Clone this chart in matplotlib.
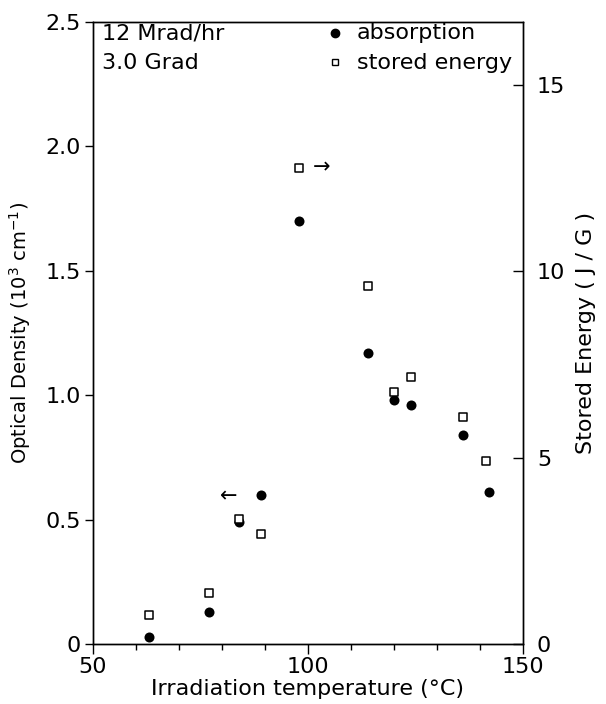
import matplotlib
matplotlib.use("Agg")
import matplotlib.pyplot as plt
from matplotlib.ticker import FixedLocator, MultipleLocator, FuncFormatter

# Data
temp_abs = [63, 77, 84, 89, 98, 114, 120, 124, 136, 142]
optical_density = [0.03, 0.13, 0.49, 0.60, 1.70, 1.17, 0.98, 0.96, 0.84, 0.61]
temp_se = [63, 77, 84, 89, 98, 114, 120, 124, 136, 141.5]
stored_energy = [0.78, 1.36, 3.35, 2.94, 12.78, 9.61, 6.75, 7.17, 6.09, 4.9]

x_ticks = [50, 100, 150]
od_ticks = [0, 0.5, 1.0, 1.5, 2.0, 2.5]
se_ticks = [0, 5, 10, 15]

plt.rcParams['font.family'] = ['DejaVu Sans']
fs = 16

fig = plt.figure(figsize=(6.06, 7.04), dpi=100)
ax = fig.add_axes([0.1535, 0.0852, 0.7095, 0.8836])
ax2 = ax.twinx()

ax.set_xlim(50, 150)
ax.set_ylim(0, 2.5)
ax2.set_ylim(0, 16.69)

ax.scatter(temp_abs, optical_density, s=52, marker='o', color='black', zorder=3, linewidths=0)
ax2.scatter(temp_se, stored_energy, s=32, marker='s', facecolor='white', edgecolor='black',
            linewidths=1.1, zorder=4)

ax.xaxis.set_major_locator(FixedLocator(x_ticks))
ax.xaxis.set_minor_locator(MultipleLocator(10))
ax.yaxis.set_major_locator(FixedLocator(od_ticks))
ax.yaxis.set_major_formatter(FuncFormatter(lambda v, p: '0' if v == 0 else f'{v:.1f}'))
ax2.yaxis.set_major_locator(FixedLocator(se_ticks))

ax.tick_params(axis='x', which='major', direction='out', length=7, width=1, labelsize=fs, pad=2)
ax.tick_params(axis='x', which='minor', direction='out', length=4, width=1)
ax.tick_params(axis='y', which='major', direction='out', length=6, width=1, labelsize=fs, pad=3)
ax2.tick_params(axis='y', which='major', direction='in', length=7, width=1, labelsize=fs, pad=10)

for a in (ax, ax2):
    for s in a.spines.values():
        s.set_linewidth(1.0)

ax.set_xlabel('Irradiation temperature (°C)', fontsize=fs, labelpad=2)
ax.set_ylabel('Optical Density (10$^3$ cm$^{-1}$)', fontsize=14, labelpad=9)
ax2.set_ylabel('Stored Energy ( J / G )', fontsize=fs, labelpad=8)

ax.text(0.02, 0.982, '12 Mrad/hr', transform=ax.transAxes, fontsize=fs, va='center', ha='left')
ax.text(0.02, 0.934, '3.0 Grad', transform=ax.transAxes, fontsize=fs, va='center', ha='left')

ax.plot([0.563], [0.982], 'o', color='black', markersize=6, transform=ax.transAxes, clip_on=False)
ax.plot([0.563], [0.936], 's', markerfacecolor='white', markeredgecolor='black', markersize=5,
        markeredgewidth=1.0, transform=ax.transAxes, clip_on=False)
ax.text(0.613, 0.982, 'absorption', transform=ax.transAxes, fontsize=fs, va='center', ha='left')
ax.text(0.613, 0.934, 'stored energy', transform=ax.transAxes, fontsize=fs, va='center', ha='left')

ax.text(81.6, 0.592, '←', fontsize=15, ha='center', va='center')
ax.text(103.2, 1.914, '→', fontsize=15, ha='center', va='center')

fig.savefig('out.png', dpi=100)
